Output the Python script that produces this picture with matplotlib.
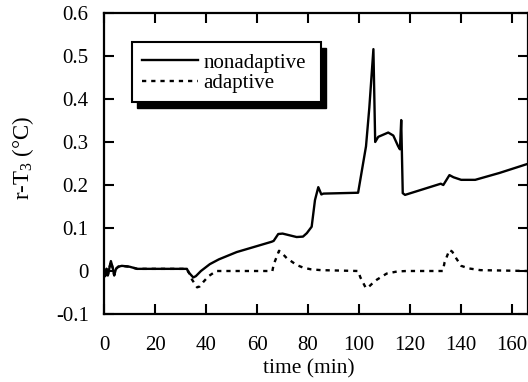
import matplotlib
matplotlib.use("Agg")
import matplotlib.pyplot as plt
from matplotlib.patches import Rectangle

# nonadaptive response
t_non = [0, 0.5, 1, 1.5, 2.7, 3.5, 4, 4.7, 5.6, 7, 10, 13, 32.5, 33, 35, 36, 38,
         41.5, 45, 52, 60, 65.7, 66.5, 68.3, 70, 75.5, 78, 79.5, 81.4, 82.7, 84,
         85.2, 86, 99.6, 102.7, 104, 105.6, 106.3, 107.5, 111.4, 113.4, 115.3, 116,
         116.5, 117.1, 118, 125, 132, 133, 135.4, 137, 140, 145.5, 155, 166]
v_non = [0.0, -0.012, 0.005, -0.01, 0.023, 0.005, -0.01, 0.005, 0.01, 0.012, 0.01,
         0.005, 0.005, -0.002, -0.015, -0.012, 0.0, 0.016, 0.027, 0.044, 0.058,
         0.068, 0.07, 0.086, 0.087, 0.079, 0.08, 0.088, 0.103, 0.165, 0.195,
         0.178, 0.18, 0.182, 0.29, 0.38, 0.516, 0.3, 0.312, 0.322, 0.315, 0.29,
         0.283, 0.351, 0.181, 0.177, 0.19, 0.203, 0.2, 0.223, 0.218, 0.212, 0.212,
         0.228, 0.249]

# adaptive response
t_ada = [0, 0.5, 1, 1.5, 2.7, 3.5, 4, 4.7, 5.6, 7, 10, 13, 32.5, 33, 34.5, 36.5,
         37.5, 39, 41, 44, 66, 66.5, 68.6, 70, 71.6, 75.5, 78, 81, 85, 99.6, 100.5,
         102.5, 103.2, 105, 107, 110.8, 115, 118.7, 132.8, 133.5, 135.4, 136.5,
         138, 140, 143, 147.5, 166]
v_ada = [0.0, -0.012, 0.005, -0.01, 0.023, 0.005, -0.01, 0.005, 0.01, 0.012, 0.01,
         0.005, 0.005, 0.0, -0.02, -0.038, -0.036, -0.025, -0.012, 0.0, 0.0, 0.015,
         0.047, 0.04, 0.03, 0.014, 0.008, 0.004, 0.002, 0.0, -0.015, -0.038, -0.04,
         -0.03, -0.02, -0.006, -0.001, 0.0, 0.0, 0.02, 0.049, 0.045, 0.03, 0.012,
         0.006, 0.002, 0.0]

x_ticks = [0, 20, 40, 60, 80, 100, 120, 140, 160]
y_ticks = [-0.1, 0, 0.1, 0.2, 0.3, 0.4, 0.5, 0.6]
y_labels = ["-0.1", "0", "0.1", "0.2", "0.3", "0.4", "0.5", "0.6"]

plt.rcParams['font.family'] = ['Liberation Serif', 'DejaVu Serif']
plt.rcParams['mathtext.fontset'] = 'custom'
plt.rcParams['mathtext.rm'] = 'Liberation Serif'

fig = plt.figure(figsize=(5.28, 3.82), dpi=100)
ax = fig.add_axes([104 / 528, 68 / 382, 423.5 / 528, 301 / 382])

ax.plot(t_non, v_non, color="black", lw=1.7, label="nonadaptive")
ax.plot(t_ada, v_ada, color="black", lw=1.7, linestyle=(0, (1.8, 2.1)), label="adaptive")

ax.set_xlim(0, 166)
ax.set_ylim(-0.1, 0.6)
ax.set_xticks(x_ticks)
ax.set_yticks(y_ticks)
ax.set_yticklabels(y_labels)
ax.tick_params(direction="in", length=7, width=1.5, top=True, right=True,
               labelsize=15)
ax.tick_params(axis="x", pad=16)
ax.tick_params(axis="y", pad=11)
for s in ax.spines.values():
    s.set_linewidth(1.6)

ax.set_xlabel("time (min)", fontsize=15.5)
ax.xaxis.set_label_coords(0.483, -0.15)
ax.set_ylabel("r-T$_3$ (°C)", fontsize=16.5)
ax.yaxis.set_label_coords(-0.16, 0.52)

# legend box with a black drop shadow
bx0, by0, bw, bh = 0.065, 0.705, 0.448, 0.2
ax.add_patch(Rectangle((bx0 + 0.012, by0 - 0.022), bw, bh, transform=ax.transAxes,
                       facecolor="black", edgecolor="black", zorder=5))
ax.add_patch(Rectangle((bx0, by0), bw, bh, transform=ax.transAxes,
                       facecolor="white", edgecolor="black", lw=1.5, zorder=6))
leg = ax.legend(loc="upper left", bbox_to_anchor=(0.08, 0.881), frameon=False,
                fontsize=15, handlelength=2.7, handletextpad=0.25, labelspacing=0.05,
                borderpad=0.2, borderaxespad=0)
leg.set_zorder(7)

fig.savefig("out.png", dpi=100)
